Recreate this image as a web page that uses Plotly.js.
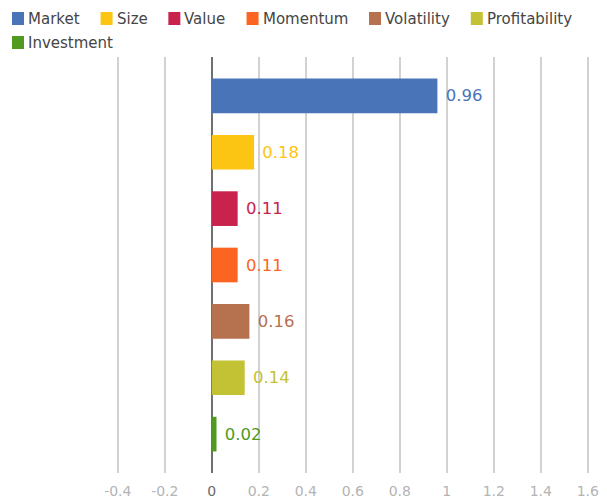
<!DOCTYPE html>
<html>
<head>
<meta charset="utf-8">
<script src="https://cdn.plot.ly/plotly-3.0.1.min.js"></script>
<style>html,body{margin:0;padding:0;background:#fff;}#chart{width:607px;height:504px;}</style>
</head>
<body>
<div id="chart"></div>
<script>
// ---- data ----
var categories = ["Market", "Size", "Value", "Momentum", "Volatility", "Profitability", "Investment"];
var values = [0.96, 0.18, 0.11, 0.11, 0.16, 0.14, 0.02];
var colors = ["#4a74b8", "#fdc513", "#c8224d", "#fc6421", "#b6714f", "#c3c234", "#4f9a1f"];
var xTickVals = [-0.4, -0.2, 0, 0.2, 0.4, 0.6, 0.8, 1, 1.2, 1.4, 1.6];
var xTickText = ["-0.4", "-0.2", "<span style=\"color:#6a6a6a\">0</span>", "0.2", "0.4", "0.6", "0.8", "1", "1.2", "1.4", "1.6"];

// ---- layout constants ----
var W = 607, H = 504;
var M = {l: 115, r: 16, t: 57, b: 31};
var FONT = "DejaVu Sans";
var plotW = W - M.l - M.r, plotH = H - M.t - M.b;

var traces = categories.map(function (c, i) {
  return {
    type: "bar",
    orientation: "h",
    name: c,
    x: [values[i]],
    y: [c],
    width: 0.615,
    marker: {color: colors[i], line: {width: 0}},
    text: ["\u00a0" + values[i].toFixed(2)],
    textposition: "outside",
    textfont: {family: FONT, size: 16.5, color: colors[i]},
    constraintext: "none",
    cliponaxis: false,
    hoverinfo: "x+name",
    showlegend: false
  };
});

// ---- custom legend (swatch + label) ----
function px2x(px) { return (px - M.l) / plotW; }
function py2y(py) { return 1 - (py - M.t) / plotH; }
var cv = document.createElement("canvas").getContext("2d");
cv.font = "15px '" + FONT + "'";
var shapes = [], annotations = [];
var lx = 12, row = 0;
categories.forEach(function (c, i) {
  var tw = cv.measureText(c).width;
  if (lx + 16 + tw > W - 4) { lx = 12; row += 1; }
  var top = 12 + row * 24;
  shapes.push({type: "rect", xref: "paper", yref: "paper",
    x0: px2x(lx), x1: px2x(lx + 12), y0: py2y(top), y1: py2y(top + 13),
    fillcolor: colors[i], line: {width: 0}, layer: "above"});
  annotations.push({xref: "paper", yref: "paper", x: px2x(lx + 15), y: py2y(top + 7),
    xanchor: "left", yanchor: "middle", showarrow: false, text: c,
    font: {family: FONT, size: 15, color: "#454545"}, borderpad: 0});
  lx += 16 + tw + 21;
});

var layout = {
  width: W, height: H,
  margin: M,
  paper_bgcolor: "#ffffff", plot_bgcolor: "#ffffff",
  font: {family: FONT},
  barmode: "overlay",
  showlegend: false,
  xaxis: {
    range: [-0.4119, 1.6136],
    tickvals: xTickVals, ticktext: xTickText,
    showgrid: true, gridcolor: "#d2d2d2", gridwidth: 2,
    zeroline: true, zerolinecolor: "#707070", zerolinewidth: 2,
    showline: false, ticks: "",
    ticklabelstandoff: 8,
    tickfont: {family: FONT, size: 14, color: "#b4b4b4"},
    fixedrange: true
  },
  yaxis: {
    type: "category",
    categoryorder: "array", categoryarray: categories,
    range: [6.69, -0.69],
    showticklabels: false, showgrid: false, zeroline: false, showline: false, ticks: "",
    fixedrange: true
  },
  shapes: shapes,
  annotations: annotations
};

Plotly.newPlot("chart", traces, layout, {displayModeBar: false, staticPlot: true});
</script>
</body>
</html>
